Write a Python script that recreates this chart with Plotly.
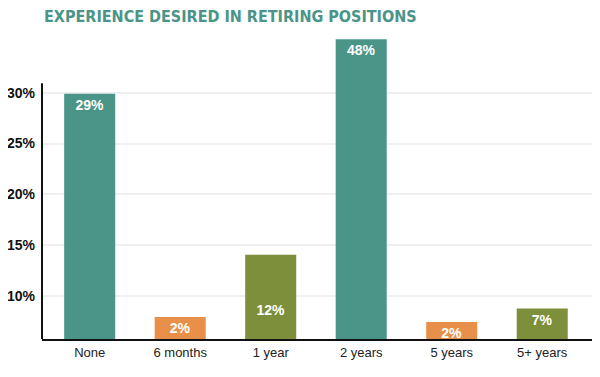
import plotly.graph_objects as go

# ---- data ----
categories = ["None", "6 months", "1 year", "2 years", "5 years", "5+ years"]
bar_heights = [29.9, 7.9, 14.05, 35.27, 7.42, 8.74]      # heights as drawn against the axis
bar_labels = ["29%", "2%", "12%", "48%", "2%", "7%"]     # printed labels
bar_colors = ["#4a9488", "#e8904a", "#7d8f3a", "#4a9488", "#e8904a", "#7d8f3a"]
y_ticks = [10, 15, 20, 25, 30]
y_tick_text = ["10%", "15%", "20%", "25%", "30%"]
title_text = "EXPERIENCE DESIRED IN RETIRING POSITIONS"

# label at bar base for the "1 year" bar, at the top for the others
bottom_label = ["1 year"]

Y_MIN, Y_MAX = 5.74, 35.99
AXIS_TOP = 30.94

top_idx = [i for i, c in enumerate(categories) if c not in bottom_label]
bot_idx = [i for i, c in enumerate(categories) if c in bottom_label]

label_font = dict(family="Liberation Sans, Arial, sans-serif", size=14, color="white", weight="bold")

fig = go.Figure()
fig.add_trace(go.Bar(
    x=[categories[i] for i in top_idx],
    y=[bar_heights[i] - Y_MIN for i in top_idx],
    base=Y_MIN,
    text=[bar_labels[i] for i in top_idx],
    marker=dict(color=[bar_colors[i] for i in top_idx], line=dict(width=0)),
    textposition="inside", insidetextanchor="end",
    textfont=label_font, textangle=0, cliponaxis=False, hoverinfo="skip",
))
fig.add_trace(go.Bar(
    x=[categories[i] for i in bot_idx],
    y=[bar_heights[i] - Y_MIN for i in bot_idx],
    base=Y_MIN,
    text=[bar_labels[i] + "<br> " for i in bot_idx],
    marker=dict(color=[bar_colors[i] for i in bot_idx], line=dict(width=0)),
    textposition="inside", insidetextanchor="start",
    textfont=label_font, textangle=0, cliponaxis=False, hoverinfo="skip",
))

# y axis line (only up to just above the 30% grid line)
fig.add_shape(type="line", xref="paper", yref="y", x0=0, x1=0, y0=Y_MIN, y1=AXIS_TOP,
              line=dict(color="#111111", width=2), layer="above")

# the page body has an 8px margin, so the figure is sized/offset for that
fig.update_layout(
    width=592, height=369,
    margin=dict(l=34, r=8, t=24, b=38, autoexpand=False),
    paper_bgcolor="white", plot_bgcolor="white",
    barmode="overlay", bargap=0.436,
    showlegend=False,
    uniformtext=dict(minsize=14, mode="show"),
    title=dict(text=title_text, x=36 / 592, xref="container", xanchor="left",
               y=1 - 8 / 369, yref="container", yanchor="middle",
               font=dict(family="Liberation Sans Narrow, DejaVu Sans Condensed, Arial Narrow, sans-serif",
                         size=16, color="#4a9488", weight="bold")),
    xaxis=dict(type="category", categoryorder="array", categoryarray=categories,
               range=[-0.527, 5.55], showline=True, linecolor="#111111", linewidth=2,
               showgrid=False, ticks="", zeroline=False, automargin=False,
               tickfont=dict(family="Liberation Sans, Arial, sans-serif", size=13, color="#222222")),
    yaxis=dict(range=[Y_MIN, Y_MAX], tickvals=y_ticks, ticktext=y_tick_text,
               showline=False, showgrid=True, gridcolor="#efefef", gridwidth=2,
               zeroline=False, ticks="", ticklabelstandoff=6, automargin=False,
               tickfont=dict(family="Liberation Sans, Arial, sans-serif", size=14, color="#111111", weight="bold")),
)

fig.write_html("out.html")
